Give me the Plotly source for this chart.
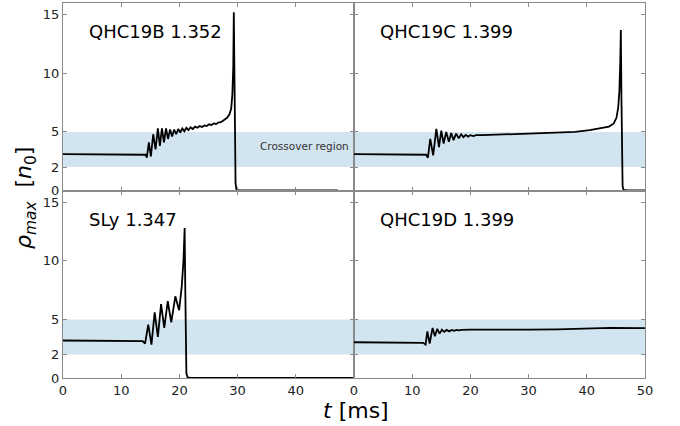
import plotly.graph_objects as go
from plotly.subplots import make_subplots

# ---- data ----
t_qhc19b = [0, 13.9, 14.2, 14.4, 14.75, 15.1, 15.5, 15.9, 16.3, 16.65, 17.0, 17.35, 17.7, 18.05,
            18.4, 18.75, 19.1, 19.45, 19.8, 20.15, 20.5, 20.85, 21.2, 21.55, 21.9, 22.3, 22.7,
            23.1, 23.5, 23.9, 24.3, 24.7, 25.1, 25.5, 25.9, 26.3, 26.7, 27.2, 27.7, 28.2, 28.6,
            28.9, 29.1, 29.25, 29.35, 29.45, 29.55, 29.65, 29.8, 30.2, 47.2]
rho_qhc19b = [3.1, 3.08, 3.05, 2.8, 4.1, 2.9, 4.8, 3.5, 5.3, 3.8, 5.3, 4.1, 5.3, 4.4,
              5.2, 4.6, 5.2, 4.8, 5.25, 4.95, 5.3, 5.05, 5.35, 5.15, 5.4, 5.25, 5.45,
              5.35, 5.5, 5.42, 5.55, 5.5, 5.65, 5.58, 5.72, 5.68, 5.8, 5.85, 6.0, 6.2, 6.5,
              7.0, 8.2, 10.5, 15.2, 10.0, 3.0, 0.6, 0.1, 0.0, 0.0]

t_qhc19c = [0, 12.4, 12.7, 13.1, 13.6, 14.15, 14.6, 15.0, 15.4, 15.85, 16.3, 16.7, 17.1, 17.55,
            18.0, 18.4, 18.8, 19.2, 19.6, 20.0, 20.5, 21.0, 22, 26, 30, 35, 38, 40.5, 42.5,
            43.8, 44.6, 45.1, 45.4, 45.6, 45.75, 45.85, 45.95, 46.05, 46.15, 46.3, 47, 50]
rho_qhc19c = [3.1, 3.05, 2.8, 4.4, 3.0, 5.25, 3.7, 5.1, 4.0, 5.0, 4.15, 4.9, 4.3, 4.85,
              4.45, 4.8, 4.55, 4.75, 4.6, 4.72, 4.65, 4.72, 4.72, 4.8, 4.85, 4.93, 5.0, 5.15, 5.3,
              5.45, 5.7, 6.2, 7.1, 8.5, 11.0, 13.7, 8.0, 2.0, 0.4, 0.05, 0.0, 0.0]

t_sly = [0, 13.7, 14.1, 14.65, 15.2, 15.75, 16.3, 16.85, 17.4, 18.0, 18.6, 19.3, 19.95,
         20.4, 20.7, 20.9, 21.0, 21.1, 21.2, 21.4, 22, 50]
rho_sly = [3.2, 3.15, 2.93, 4.56, 2.85, 5.6, 3.5, 6.3, 4.27, 6.55, 4.75, 6.97, 5.78,
           7.8, 10.0, 12.8, 8.0, 2.0, 0.4, 0.05, 0.0, 0.0]

t_qhc19d = [0, 11.9, 12.3, 12.6, 13.0, 13.5, 13.9, 14.3, 14.7, 15.1, 15.5, 15.9, 16.35, 16.8,
            17.2, 17.6, 18.0, 18.5, 20, 25, 30, 35, 40, 44, 50]
rho_qhc19d = [3.05, 3.0, 2.85, 3.98, 2.93, 4.27, 3.56, 4.2, 3.79, 4.12, 3.94, 4.1, 3.98, 4.1,
              4.02, 4.1, 4.06, 4.1, 4.12, 4.1, 4.13, 4.15, 4.2, 4.27, 4.25]

panel_labels = ["QHC19B 1.352", "QHC19C 1.399", "SLy 1.347", "QHC19D 1.399"]
crossover = [2, 5]
y_ticks = [0, 2, 5, 10, 15]
x_ticks = [0, 10, 20, 30, 40, 50]
x_ticktext_left = ["0", "10", "20", "30", "40", ""]
x_ticktext_right = ["0", "10", "20", "30", "40", "50"]

series = [(t_qhc19b, rho_qhc19b), (t_qhc19c, rho_qhc19c), (t_sly, rho_sly), (t_qhc19d, rho_qhc19d)]
positions = [(1, 1), (1, 2), (2, 1), (2, 2)]

FONT = "DejaVu Sans"
SPINE = "#8a8a8a"

W, H = 680, 426
ml, mr, mt, mb = 63, 35, 3, 48
pw, ph = W - ml - mr, H - mt - mb

fig = make_subplots(rows=2, cols=2, horizontal_spacing=0, vertical_spacing=0)

for i, ((tt, rr), (r, c)) in enumerate(zip(series, positions)):
    fig.add_trace(go.Scatter(x=tt, y=rr, mode="lines", line=dict(color="black", width=1.8),
                             showlegend=False, hoverinfo="skip"), row=r, col=c)
    idx = "" if i == 0 else str(i + 1)
    fig.add_shape(type="rect", xref=f"x{idx} domain", yref=f"y{idx}", x0=0, x1=1,
                  y0=crossover[0], y1=crossover[1], fillcolor="rgb(210,228,240)",
                  line=dict(width=0), layer="below")
    fig.add_annotation(x=4.1, y=13.55, xref=f"x{idx}", yref=f"y{idx}", text=panel_labels[i],
                       showarrow=False, xanchor="left", yanchor="middle",
                       font=dict(family=FONT, size=18, color="black"))

fig.add_annotation(x=49.5, y=3.8, xref="x", yref="y", text="Crossover region", showarrow=False,
                   xanchor="right", yanchor="middle", font=dict(family=FONT, size=10.5, color="#333"))

common_axis = dict(showline=True, linecolor=SPINE, linewidth=1, mirror="allticks",
                   ticks="inside", ticklen=4, tickwidth=1, tickcolor=SPINE,
                   showgrid=False, zeroline=False, automargin=False,
                   tickfont=dict(family=FONT, size=13, color="#222"))

for i, (r, c) in enumerate(positions):
    fig.update_xaxes(range=[0, 50], tickvals=x_ticks,
                     ticktext=(x_ticktext_left if c == 1 else x_ticktext_right),
                     showticklabels=(r == 2), row=r, col=c, **common_axis)
    fig.update_yaxes(range=[0, 16], tickvals=y_ticks, ticktext=[str(v) for v in y_ticks],
                     showticklabels=(c == 1), row=r, col=c, **common_axis)

fig.add_annotation(x=(25 - ml) / pw, y=(H - mb - 198) / ph, xref="paper", yref="paper",
                   text="<i>ρ<sub>max</sub></i>  [<i>n</i><sub>0</sub>]", textangle=-90,
                   showarrow=False, xanchor="center", yanchor="middle",
                   font=dict(family=FONT, size=22, color="black"))
fig.add_annotation(x=(356 - ml) / pw, y=(H - mb - 410) / ph, xref="paper", yref="paper",
                   text="<i>t</i> [ms]", showarrow=False, xanchor="center", yanchor="middle",
                   font=dict(family=FONT, size=22, color="black"))

fig.update_layout(width=W, height=H, margin=dict(l=ml, r=mr, t=mt, b=mb, autoexpand=False),
                  paper_bgcolor="white", plot_bgcolor="white", showlegend=False)

fig.write_html("out.html", config={"displayModeBar": False, "staticPlot": True},
               post_script="document.body.style.margin='0';document.body.style.overflow='hidden';")
